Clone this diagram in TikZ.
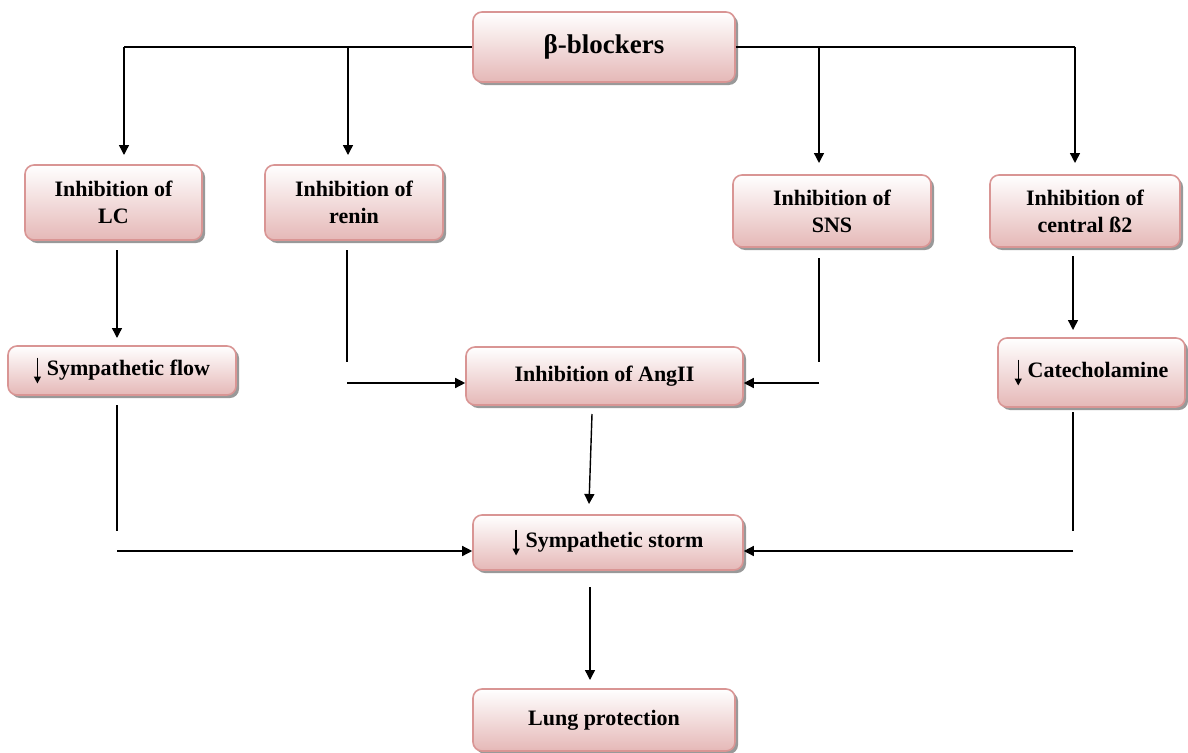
\documentclass[tikz,border=0pt]{standalone}
\usepackage{fontspec}
\setmainfont{Liberation Serif}
\usetikzlibrary{arrows.meta,shadows}
\definecolor{boxline}{HTML}{D99594}
\definecolor{boxfill}{HTML}{E5B8B7}
\tikzset{
  box/.style={draw=boxline, line width=1.6pt, rounded corners=9pt,
    top color=white, bottom color=boxfill,
    drop shadow={shadow xshift=3pt, shadow yshift=-3pt, fill=black!40, opacity=1},
    font=\fontsize{22}{27}\selectfont\bfseries, align=center, inner sep=2pt},
  conn/.style={line width=1.4pt, draw=black},
  arr/.style={conn, -{Triangle[length=10pt,width=10pt]}},
}
\newcommand{\dn}{\tikz[baseline=0pt,x=1pt,y=1pt]\draw[line width=1.3pt,-{Triangle[length=7pt,width=7pt]}] (0,18) -- (0,-8);\hspace{6pt}}
\begin{document}
\begin{tikzpicture}[x=1pt,y=-1pt]
\useasboundingbox (0,0) rectangle (1188,752);
% nodes
\node[box, minimum width=262pt, minimum height=70pt, font=\fontsize{27}{30}\selectfont\bfseries] (bb) at (604,47) {β-blockers};
\node[box, minimum width=177pt, minimum height=75pt] (lc) at (113.5,202.5) {Inhibition of\\LC};
\node[box, minimum width=178pt, minimum height=75pt] (renin) at (354,202.5) {Inhibition of\\renin};
\node[box, minimum width=198pt, minimum height=72pt] (sns) at (832,211) {Inhibition of\\SNS};
\node[box, minimum width=190pt, minimum height=72pt] (cb2) at (1085,211) {Inhibition of\\central ß2};
\node[box, minimum width=228pt, minimum height=49pt] (flow) at (122,370.5) {\dn Sympathetic flow};
\node[box, minimum width=277pt, minimum height=58pt] (ang) at (604.5,376) {Inhibition of AngII};
\node[box, minimum width=187pt, minimum height=69pt] (cat) at (1091.5,372.5) {\dn Catecholamine};
\node[box, minimum width=270pt, minimum height=55pt] (storm) at (608,542.5) {\dn Sympathetic storm};
\node[box, minimum width=262pt, minimum height=62pt] (lung) at (604,720) {Lung protection};
% coordinates for free ends
\coordinate (tl) at (124,47);
\coordinate (tlr) at (348,47);
\coordinate (tr) at (1075,47);
\coordinate (trs) at (819,47);
\coordinate (lcA) at (117,250);
\coordinate (lcB) at (117,338);
\coordinate (reA) at (347,250);
\coordinate (reB) at (347,362);
\coordinate (reC) at (347,383);
\coordinate (snA) at (819,258);
\coordinate (snB) at (819,362);
\coordinate (snC) at (819,383);
\coordinate (cbA) at (1073,256);
\coordinate (cbB) at (1073,330);
\coordinate (flA) at (117,405);
\coordinate (flB) at (117,531);
\coordinate (flC) at (117,551);
\coordinate (caA) at (1073,412);
\coordinate (caB) at (1073,531);
\coordinate (caC) at (1073,551);
\coordinate (anA) at (592,414);
\coordinate (anB) at (589,504);
\coordinate (stA) at (590,587);
\coordinate (stB) at (590,680);
% connectors
\draw[conn] (bb.west) -- (tl);
\draw[arr] (tl) -- (124,155);
\draw[arr] (tlr) -- (348,155);
\draw[conn] (bb.east) -- (tr);
\draw[arr] (tr) -- (1075,163);
\draw[arr] (trs) -- (819,163);
\draw[arr] (lcA) -- (lcB);
\draw[conn] (reA) -- (reB);
\draw[arr] (reC) -- (ang.west |- reC);
\draw[conn] (snA) -- (snB);
\draw[arr] (snC) -- (ang.east |- snC);
\draw[arr] (cbA) -- (cbB);
\draw[conn] (flA) -- (flB);
\draw[arr] (flC) -- (storm.west |- flC);
\draw[conn] (caA) -- (caB);
\draw[arr] (caC) -- (storm.east |- caC);
\draw[arr] (anA) -- (anB);
\draw[arr] (stA) -- (stB);
\end{tikzpicture}
\end{document}
